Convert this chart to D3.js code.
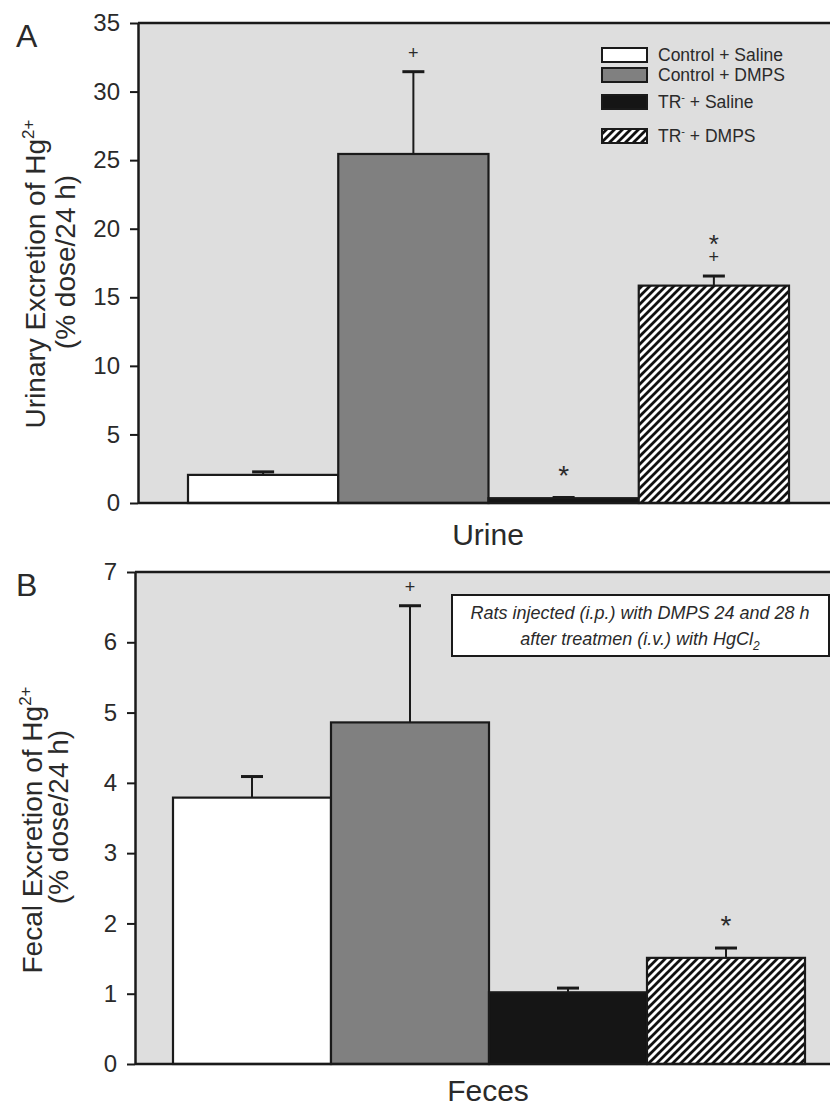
<!DOCTYPE html>
<html><head><meta charset="utf-8">
<script src="https://cdn.jsdelivr.net/npm/d3@7"></script>
<style>
html,body{margin:0;padding:0;background:#fff;}
svg text{font-family:"Liberation Sans",Arial,sans-serif;fill:#2a2a2a;}
</style></head>
<body><svg id="c" width="830" height="1108"></svg>
<script>
// ---- data ----
const groups = ["Control + Saline", "Control + DMPS", "TR- + Saline", "TR- + DMPS"];
const urineMean = [2.05, 25.45, 0.35, 15.85];
const urineErr  = [0.22, 6.0, 0.05, 0.7];
const fecesMean = [3.79, 4.86, 1.02, 1.51];
const fecesErr  = [0.30, 1.66, 0.06, 0.14];
const urinePlus = [false, true, false, true];
const urineStar = [false, false, true, true];
const fecesPlus = [false, true, false, false];
const fecesStar = [false, false, false, true];
const urineTicks = [0, 5, 10, 15, 20, 25, 30, 35];
const fecesTicks = [0, 1, 2, 3, 4, 5, 6, 7];

const svg = d3.select("#c");
const defs = svg.append("defs");
const pat = defs.append("pattern").attr("id","hatch").attr("patternUnits","userSpaceOnUse")
  .attr("width",8).attr("height",8);
pat.append("rect").attr("width",8).attr("height",8).attr("fill","#fff");
pat.append("path").attr("d","M-2,2 L2,-2 M0,8 L8,0 M6,10 L10,6")
  .attr("stroke","#111").attr("stroke-width",2.8);

const fills = ["#ffffff", "#808080", "#151515", "url(#hatch)"];

function panel(cfg){
  const g = svg.append("g");
  const y = d3.scaleLinear().domain([0, cfg.max]).range([cfg.bottom, cfg.top]);
  const x = d3.scaleBand().domain(groups).range([cfg.x0, cfg.x1]).padding(0);
  g.append("rect").attr("x",cfg.left).attr("y",cfg.top).attr("width",840-cfg.left)
    .attr("height",cfg.bottom-cfg.top).attr("fill","#dedede");
  g.selectAll("rect.bar").data(groups).enter().append("rect").attr("class","bar")
    .attr("x",d=>x(d)).attr("width",x.bandwidth())
    .attr("y",(d,i)=>y(cfg.mean[i])).attr("height",(d,i)=>cfg.bottom-y(cfg.mean[i]))
    .attr("fill",(d,i)=>fills[i]).attr("stroke","#1a1a1a").attr("stroke-width",2.2);
  groups.forEach((d,i)=>{
    const cx = x(d)+x.bandwidth()/2;
    const yt = y(cfg.mean[i]+cfg.err[i]);
    g.append("line").attr("x1",cx).attr("x2",cx).attr("y1",y(cfg.mean[i])).attr("y2",yt)
      .attr("stroke","#1a1a1a").attr("stroke-width",2);
    g.append("line").attr("x1",cx-11).attr("x2",cx+11).attr("y1",yt).attr("y2",yt)
      .attr("stroke","#1a1a1a").attr("stroke-width",3);
    if(cfg.plus[i] && cfg.star[i]){
      const t = g.append("text").attr("text-anchor","middle");
      t.append("tspan").attr("x",cx).attr("y",yt-23).attr("font-size",26).text("*");
      t.append("tspan").attr("x",cx).attr("y",yt-13).attr("font-size",18).text("+");
    } else if(cfg.plus[i]){
      g.append("text").attr("x",cx).attr("y",yt-13).attr("text-anchor","middle")
        .attr("font-size",18).text("+");
    } else if(cfg.star[i]){
      g.append("text").attr("x",cx).attr("y",yt-13).attr("text-anchor","middle")
        .attr("font-size",28).text("*");
    }
  });
  g.append("line").attr("x1",cfg.left).attr("x2",840).attr("y1",cfg.top).attr("y2",cfg.top)
    .attr("stroke","#1a1a1a").attr("stroke-width",2.5);
  g.append("line").attr("x1",cfg.left).attr("x2",840).attr("y1",cfg.bottom).attr("y2",cfg.bottom)
    .attr("stroke","#1a1a1a").attr("stroke-width",2.5);
  const ax = g.append("g").attr("transform",`translate(${cfg.left},0)`)
    .call(d3.axisLeft(y).tickValues(cfg.ticks).tickFormat(d3.format("d"))
      .tickSize(8).tickSizeOuter(0).tickPadding(10));
  ax.select(".domain").attr("stroke","#1a1a1a").attr("stroke-width",2.5);
  ax.selectAll(".tick line").attr("stroke","#1a1a1a").attr("stroke-width",2);
  ax.selectAll(".tick text").attr("font-size",24).attr("font-family","Liberation Sans, Arial, sans-serif")
    .attr("fill","#2a2a2a");
  g.append("text").attr("x",488).attr("y",cfg.xlabY).attr("text-anchor","middle")
    .attr("font-size",30).text(cfg.xlabel);
  g.append("text").attr("x",16).attr("y",cfg.letterY).attr("font-size",32).text(cfg.letter);
  const t1 = g.append("text").attr("transform",`translate(${cfg.t1x},${cfg.tcy}) rotate(-90)`)
    .attr("text-anchor","middle").attr("font-size",28);
  t1.append("tspan").text(cfg.ytitle);
  t1.append("tspan").attr("dy",-11).attr("font-size",17).text("2+");
  g.append("text").attr("transform",`translate(${cfg.t2x},${cfg.tcy2}) rotate(-90)`)
    .attr("text-anchor","middle").attr("font-size",28).text("(% dose/24 h)");
  return g;
}

panel({left:138, top:23, bottom:503, x0:188, x1:789, max:35, ticks:urineTicks,
  mean:urineMean, err:urineErr, plus:urinePlus, star:urineStar,
  xlabel:"Urine", xlabY:545, letter:"A", letterY:47,
  ytitle:"Urinary Excretion of Hg", t1x:45, tcy:274, t2x:75, tcy2:262});

panel({left:135, top:572, bottom:1064, x0:173, x1:805, max:7, ticks:fecesTicks,
  mean:fecesMean, err:fecesErr, plus:fecesPlus, star:fecesStar,
  xlabel:"Feces", xlabY:1101, letter:"B", letterY:596,
  ytitle:"Fecal Excretion of Hg", t1x:42, tcy:830, t2x:68, tcy2:817});

const lg = svg.append("g");
const legY = [48, 68, 95, 129];
groups.forEach((d,i)=>{
  lg.append("rect").attr("x",602).attr("y",legY[i]).attr("width",45).attr("height",14)
    .attr("fill",fills[i]).attr("stroke","#1a1a1a").attr("stroke-width",2);
  const t = lg.append("text").attr("x",658).attr("y",legY[i]+13).attr("font-size",17.5);
  if(d.startsWith("TR-")){
    t.append("tspan").text("TR");
    t.append("tspan").attr("dy",-7).attr("font-size",11).text("-");
    t.append("tspan").attr("dy",7).text(d.slice(3));
  } else {
    t.text(d);
  }
});

const ab = svg.append("g");
ab.append("rect").attr("x",452).attr("y",595).attr("width",377).attr("height",61)
  .attr("fill","#fff").attr("stroke","#1a1a1a").attr("stroke-width",2);
ab.append("text").attr("x",640).attr("y",619).attr("text-anchor","middle")
  .attr("font-size",18).attr("font-style","italic").text("Rats injected (i.p.) with DMPS 24 and 28 h");
const a2 = ab.append("text").attr("x",640).attr("y",645).attr("text-anchor","middle")
  .attr("font-size",18).attr("font-style","italic");
a2.append("tspan").text("after treatmen (i.v.) with HgCl");
a2.append("tspan").attr("dy",5).attr("font-size",12).text("2");
</script></body></html>
